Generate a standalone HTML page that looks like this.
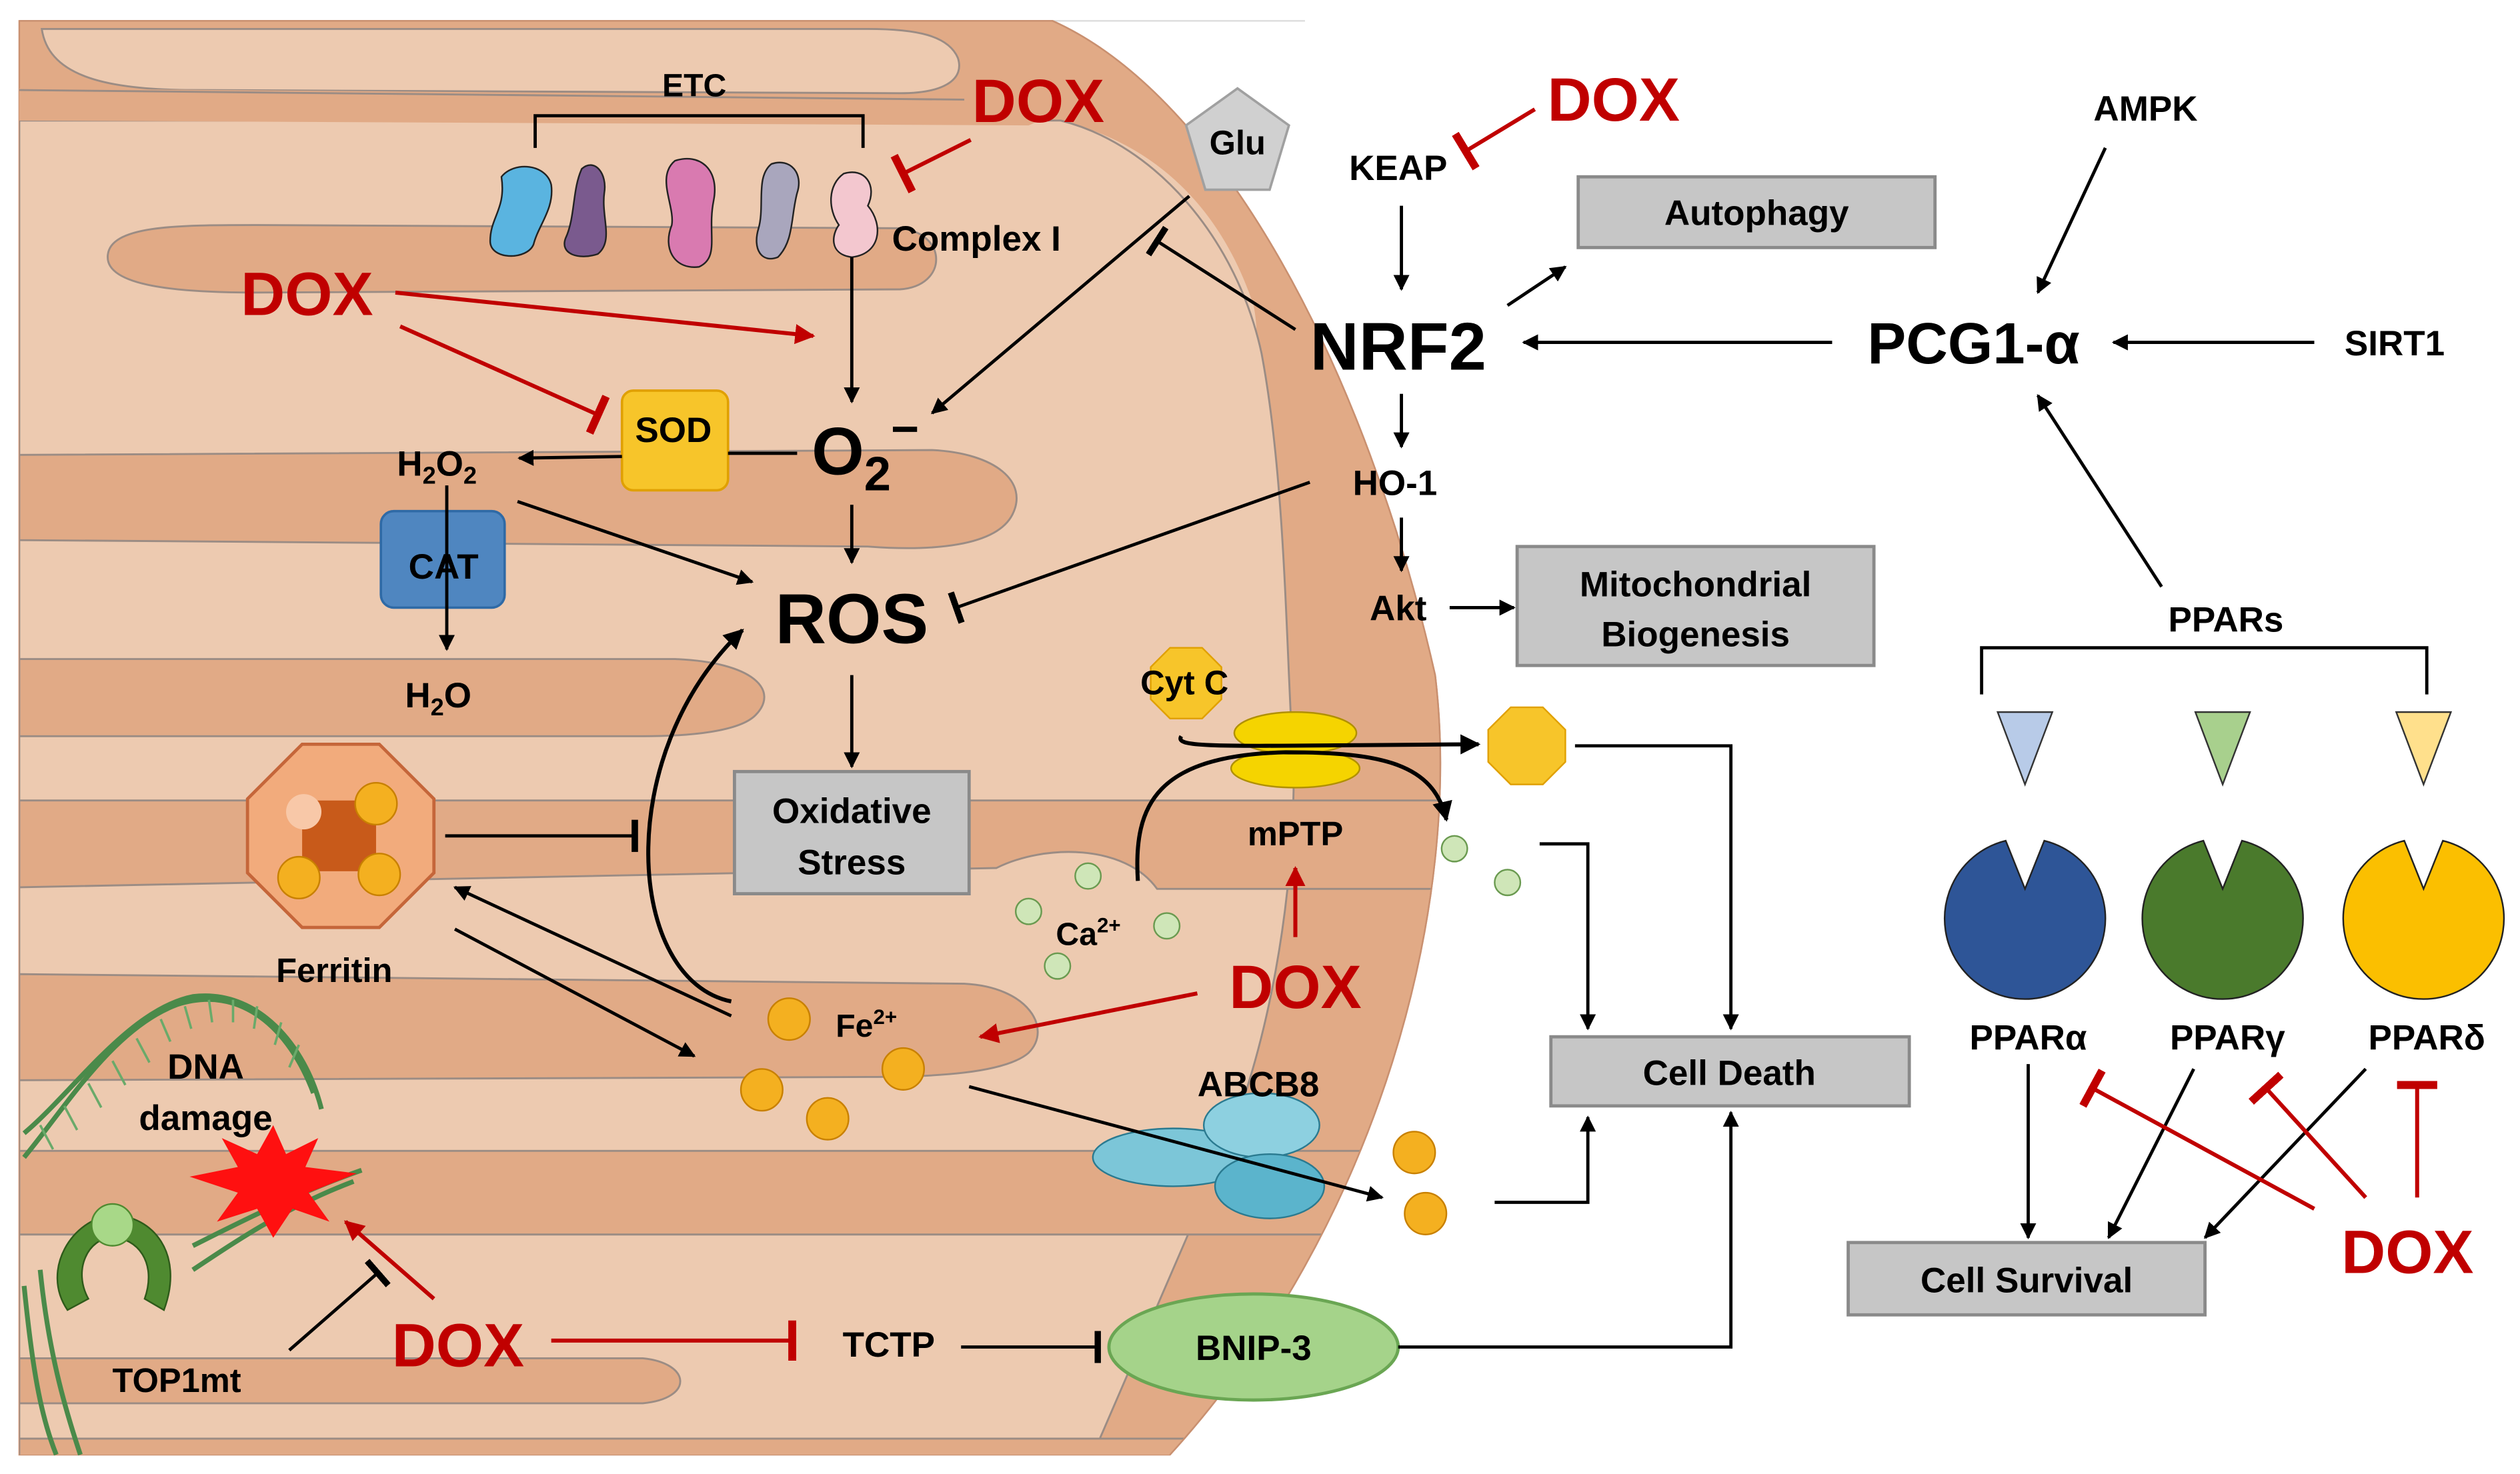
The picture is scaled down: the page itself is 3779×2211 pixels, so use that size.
<!DOCTYPE html>
<html><head><meta charset="utf-8"><style>
html,body{margin:0;padding:0;background:#fff;}
svg{display:block;}
text{font-family:"Liberation Sans",Arial,sans-serif;font-weight:bold;}
</style></head><body>
<svg width="3779" height="2211" viewBox="0 0 1568 917" preserveAspectRatio="none" xmlns="http://www.w3.org/2000/svg">
<defs>
<marker id="ab" viewBox="0 0 10 10" refX="9" refY="5" markerWidth="5" markerHeight="5" orient="auto"><path d="M0,0 L10,5 L0,10 z" fill="#000"/></marker>
<marker id="ar" viewBox="0 0 10 10" refX="9" refY="5" markerWidth="5" markerHeight="5" orient="auto"><path d="M0,0 L10,5 L0,10 z" fill="#c00000"/></marker>
<marker id="tb" viewBox="0 0 4 20" refX="2" refY="10" markerWidth="2" markerHeight="10" orient="auto"><rect x="0" y="0" width="4" height="20" fill="#000"/></marker>
<marker id="tr" viewBox="0 0 4 20" refX="2" refY="10" markerWidth="2" markerHeight="10" orient="auto"><rect x="0" y="0" width="4" height="20" fill="#c00000"/></marker>
<clipPath id="mito"><path d="M12,13 L655,13 C760,60 850,230 893,420 C910,560 860,760 728,905 L12,905 Z"/></clipPath>
</defs>
<rect width="1568" height="917" fill="#fff"/>
<line x1="12" y1="13" x2="812" y2="13" stroke="#ddd" stroke-width="1"/>
<!-- mitochondrion -->
<path d="M12,13 L655,13 C760,60 850,230 893,420 C910,560 860,760 728,905 L12,905 Z" fill="#e1aa86" stroke="#c99070" stroke-width="1"/>
<g clip-path="url(#mito)" stroke="#9b8c84" stroke-width="1.2">
 <path d="M12,75 L12,285 L560,285 C600,285 640,300 640,320 L700,320 C760,300 790,240 780,190 C760,130 720,90 660,75 Z" fill="#edcab0" stroke="none"/>
 <path d="M12,75 L660,75 C720,90 770,150 785,220 C800,300 800,400 805,480 C805,560 790,650 760,720 C730,790 700,860 680,905 L12,905 Z" fill="#edcab0"/>
 <path d="M26,18 C30,45 60,56 120,56 L560,58 C590,58 600,48 596,36 C590,22 570,18 540,18 Z" fill="#edcab0"/>
 <path d="M12,55 L620,60 C650,62 660,70 640,78 L12,75 Z" fill="#e1aa86" stroke="none"/>
 <path d="M12,56 L600,62" fill="none"/>
 <path d="M67,160 C67,140 110,140 160,140 L560,142 C590,145 590,178 560,180 L160,182 C110,182 67,178 67,160 Z" fill="#e1aa86"/>
 <path d="M12,283 L580,280 C620,282 640,300 630,320 C620,340 580,343 540,340 L12,336 Z" fill="#e1aa86"/>
 <path d="M12,410 L420,410 C470,412 485,430 470,445 C460,455 430,458 400,458 L12,458 Z" fill="#e1aa86"/>
 <path d="M12,498 L900,498 L900,553 L720,553 C700,525 650,525 620,540 L12,552 Z" fill="#e1aa86"/>
 <path d="M12,606 L600,612 C640,614 655,640 640,655 C625,668 580,670 540,670 L12,672 Z" fill="#e1aa86"/>
 <path d="M12,716 L900,716 L900,768 L12,768 Z" fill="#e1aa86"/>
 <path d="M12,845 L400,845 C430,848 432,870 400,873 L12,873 Z" fill="#e1aa86"/>
 <path d="M12,895 L900,895 L900,917 L12,917 Z" fill="#e1aa86"/>
</g>
<path d="M12,13 L655,13 C760,60 850,230 893,420 C910,560 860,760 728,905" fill="none" stroke="#c99070" stroke-width="1"/>

<!-- ETC -->
<text x="432" y="60" font-size="20" text-anchor="middle">ETC</text>
<path d="M333,92 L333,72 L537,72 L537,92" fill="none" stroke="#000" stroke-width="2"/>
<path d="M312,110 C320,100 340,102 343,115 C345,130 335,140 332,152 C328,162 305,162 305,150 C305,135 315,130 312,110 Z" fill="#5ab4e0" stroke="#222" stroke-width="1"/>
<path d="M362,105 C370,98 378,108 376,120 C374,135 382,150 372,158 C360,162 348,158 352,148 C358,135 356,118 362,105 Z" fill="#7a5a8e" stroke="#222" stroke-width="1"/>
<path d="M420,100 C435,95 448,105 444,125 C440,145 448,160 435,166 C420,168 412,155 418,140 C420,128 408,110 420,100 Z" fill="#d97ab0" stroke="#222" stroke-width="1"/>
<path d="M480,102 C492,98 500,108 496,120 C492,135 494,150 484,160 C474,164 468,155 472,142 C476,128 470,110 480,102 Z" fill="#a9a6bd" stroke="#222" stroke-width="1"/>
<path d="M525,108 C538,104 546,115 540,128 C550,140 548,158 530,160 C515,158 518,145 522,140 C515,130 515,115 525,108 Z" fill="#f3c7cf" stroke="#222" stroke-width="1"/>
<text x="646" y="76" font-size="38" fill="#c00000" text-anchor="middle">DOX</text>
<line x1="604" y1="87" x2="562" y2="108" stroke="#c00000" stroke-width="2.5" marker-end="url(#tr)"/>
<text x="555" y="156" font-size="22">Complex I</text>

<text x="191" y="196" font-size="38" fill="#c00000" text-anchor="middle">DOX</text>
<line x1="246" y1="182" x2="506" y2="209" stroke="#c00000" stroke-width="2.5" marker-end="url(#ar)"/>
<line x1="249" y1="203" x2="372" y2="258" stroke="#c00000" stroke-width="2.5" marker-end="url(#tr)"/>
<line x1="530" y1="160" x2="530" y2="250" stroke="#000" stroke-width="2" marker-end="url(#ab)"/>
<rect x="387" y="243" width="66" height="62" rx="7" fill="#f7c52a" stroke="#e0a000" stroke-width="1.5"/>
<line x1="453" y1="282" x2="496" y2="282" stroke="#000" stroke-width="2"/>
<line x1="387" y1="284" x2="323" y2="285" stroke="#000" stroke-width="2" marker-end="url(#ab)"/>
<text x="419" y="275" font-size="22" text-anchor="middle">SOD</text>
<text x="505" y="295" font-size="42">O<tspan font-size="30" dy="10">2</tspan><tspan font-size="30" dy="-28">−</tspan></text>
<text x="247" y="296" font-size="22">H<tspan font-size="15" dy="5">2</tspan><tspan dy="-5">O</tspan><tspan font-size="15" dy="5">2</tspan></text>
<rect x="237" y="318" width="77" height="60" rx="8" fill="#4f86c0" stroke="#2f6aa6" stroke-width="1.5"/>
<text x="276" y="360" font-size="22" text-anchor="middle">CAT</text>
<line x1="278" y1="302" x2="278" y2="404" stroke="#000" stroke-width="2" marker-end="url(#ab)"/>
<text x="252" y="440" font-size="22">H<tspan font-size="15" dy="5">2</tspan><tspan dy="-5">O</tspan></text>
<line x1="322" y1="312" x2="468" y2="362" stroke="#000" stroke-width="2" marker-end="url(#ab)"/>
<line x1="530" y1="314" x2="530" y2="350" stroke="#000" stroke-width="2" marker-end="url(#ab)"/>
<text x="530" y="400" font-size="44" text-anchor="middle">ROS</text>
<line x1="815" y1="300" x2="595" y2="378" stroke="#000" stroke-width="2" marker-end="url(#tb)"/>
<line x1="530" y1="420" x2="530" y2="477" stroke="#000" stroke-width="2" marker-end="url(#ab)"/>
<rect x="457" y="480" width="146" height="76" fill="#c6c6c6" stroke="#8a8a8a" stroke-width="2"/>
<text x="530" y="512" font-size="22" text-anchor="middle">Oxidative</text>
<text x="530" y="544" font-size="22" text-anchor="middle">Stress</text>

<!-- Ferritin -->
<polygon points="188,463 236,463 270,497 270,543 236,577 188,577 154,543 154,497" fill="#f2ab7c" stroke="#c5663a" stroke-width="2"/>
<rect x="188" y="498" width="46" height="44" fill="#c85a1a"/>
<circle cx="189" cy="505" r="11" fill="#f8c8a8"/>
<circle cx="234" cy="500" r="13" fill="#f4b020" stroke="#c88000"/>
<circle cx="186" cy="546" r="13" fill="#f4b020" stroke="#c88000"/>
<circle cx="236" cy="544" r="13" fill="#f4b020" stroke="#c88000"/>
<text x="208" y="611" font-size="21" text-anchor="middle">Ferritin</text>
<line x1="277" y1="520" x2="395" y2="520" stroke="#000" stroke-width="2" marker-end="url(#tb)"/>
<path d="M455,623 C390,610 380,470 462,392" fill="none" stroke="#000" stroke-width="2.5" marker-end="url(#ab)"/>
<line x1="455" y1="632" x2="283" y2="552" stroke="#000" stroke-width="2" marker-end="url(#ab)"/>
<line x1="283" y1="578" x2="432" y2="657" stroke="#000" stroke-width="2" marker-end="url(#ab)"/>
<g fill="#f4b020" stroke="#c88000" stroke-width="1">
<circle cx="491" cy="634" r="13"/><circle cx="562" cy="665" r="13"/><circle cx="474" cy="678" r="13"/><circle cx="515" cy="696" r="13"/>
<circle cx="880" cy="717" r="13"/><circle cx="887" cy="755" r="13"/>
</g>
<text x="520" y="645" font-size="20">Fe<tspan font-size="13" dy="-8">2+</tspan></text>
<text x="806" y="627" font-size="38" fill="#c00000" text-anchor="middle">DOX</text>
<line x1="745" y1="618" x2="610" y2="645" stroke="#c00000" stroke-width="2.5" marker-end="url(#ar)"/>
<line x1="806" y1="583" x2="806" y2="540" stroke="#c00000" stroke-width="2.5" marker-end="url(#ar)"/>
<text x="806" y="526" font-size="21" text-anchor="middle">mPTP</text>

<!-- Cyt C & mPTP -->
<polygon points="728,403 748,403 760,415 760,435 748,447 728,447 716,435 716,415" fill="#f7c52a" stroke="#e0a000"/>
<ellipse cx="806" cy="478" rx="40" ry="12" fill="#f5d400" stroke="#b09000"/>
<ellipse cx="806" cy="456" rx="38" ry="13" fill="#f5d400" stroke="#b09000"/>
<text x="737" y="432" font-size="21" text-anchor="middle">Cyt C</text>
<path d="M735,458 C730,466 760,464 920,463" fill="none" stroke="#000" stroke-width="2.5" marker-end="url(#ab)"/>
<polygon points="940,440 960,440 974,454 974,474 960,488 940,488 926,474 926,454" fill="#f7c52a" stroke="#e0a000"/>
<path d="M708,548 C705,500 720,470 800,468 C860,468 892,475 900,510" fill="none" stroke="#000" stroke-width="2.5" marker-end="url(#ab)"/>
<g fill="#cfe6b8" stroke="#6a9a50" stroke-width="1">
<circle cx="677" cy="545" r="8"/><circle cx="640" cy="567" r="8"/><circle cx="726" cy="576" r="8"/><circle cx="658" cy="601" r="8"/>
<circle cx="905" cy="528" r="8"/><circle cx="938" cy="549" r="8"/>
</g>
<text x="657" y="588" font-size="20">Ca<tspan font-size="13" dy="-8">2+</tspan></text>
<path d="M980,464 L1077,464 L1077,640" fill="none" stroke="#000" stroke-width="2" marker-end="url(#ab)"/>
<path d="M958,525 L988,525 L988,640" fill="none" stroke="#000" stroke-width="2" marker-end="url(#ab)"/>
<rect x="965" y="645" width="223" height="43" fill="#c6c6c6" stroke="#8a8a8a" stroke-width="2"/>
<text x="1076" y="675" font-size="22" text-anchor="middle">Cell Death</text>

<!-- ABCB8 -->
<ellipse cx="730" cy="720" rx="50" ry="18" fill="#7cc6d8" stroke="#2a7a90"/>
<ellipse cx="785" cy="700" rx="36" ry="20" fill="#8dd0e0" stroke="#2a7a90"/>
<ellipse cx="790" cy="738" rx="34" ry="20" fill="#5bb4cc" stroke="#2a7a90"/>
<text x="783" y="682" font-size="22" text-anchor="middle">ABCB8</text>
<line x1="603" y1="676" x2="860" y2="745" stroke="#000" stroke-width="2" marker-end="url(#ab)"/>
<path d="M930,748 L988,748 L988,695" fill="none" stroke="#000" stroke-width="2" marker-end="url(#ab)"/>

<!-- BNIP-3 -->
<ellipse cx="780" cy="838" rx="90" ry="33" fill="#a5d38a" stroke="#6aa653" stroke-width="2"/>
<text x="780" y="846" font-size="22" text-anchor="middle">BNIP-3</text>
<path d="M870,838 L1077,838 L1077,692" fill="none" stroke="#000" stroke-width="2" marker-end="url(#ab)"/>
<text x="553" y="844" font-size="22" text-anchor="middle">TCTP</text>
<line x1="598" y1="838" x2="683" y2="838" stroke="#000" stroke-width="2" marker-end="url(#tb)"/>
<text x="285" y="850" font-size="38" fill="#c00000" text-anchor="middle">DOX</text>
<line x1="343" y1="834" x2="493" y2="834" stroke="#c00000" stroke-width="2.5" marker-end="url(#tr)"/>
<line x1="270" y1="808" x2="215" y2="760" stroke="#c00000" stroke-width="2.5" marker-end="url(#ar)"/>
<line x1="180" y1="840" x2="235" y2="792" stroke="#000" stroke-width="2" marker-end="url(#tb)"/>

<!-- DNA -->
<g fill="none" stroke="#4a8a4a" stroke-width="3">
<path d="M15,720 C40,690 70,640 110,625 C150,612 180,640 195,680"/>
<path d="M15,705 C45,680 80,628 120,620 C160,615 190,650 200,690"/>
<path d="M15,800 C20,850 25,880 35,905"/>
<path d="M25,790 C30,840 40,875 50,905"/>
<path d="M120,790 C150,770 180,750 220,735"/>
<path d="M120,775 C150,760 185,742 225,728"/>
</g>
<g stroke="#6aaa6a" stroke-width="1.5">
<path d="M25,700 l8,15 M40,688 l8,15 M55,674 l8,15 M70,660 l8,15 M85,646 l8,15 M100,634 l6,14 M115,626 l4,14 M130,622 l2,14 M145,622 l0,14 M160,626 l-2,14 M175,636 l-4,14 M186,650 l-6,14"/>
</g>
<polygon points="170,700 178,718 198,708 190,726 222,730 192,742 205,760 182,752 170,770 160,752 135,760 148,742 118,732 148,726 138,708 160,718" fill="#ff1010"/>
<path d="M42,815 C25,790 45,758 70,756 C95,756 115,780 102,815 L90,808 C98,785 85,770 70,770 C55,770 45,790 55,808 Z" fill="#4f8a30" stroke="#2e5a1a"/>
<circle cx="70" cy="762" r="13" fill="#a8d888" stroke="#4f8a30"/>
<text x="128" y="671" font-size="22" text-anchor="middle">DNA</text>
<text x="128" y="703" font-size="22" text-anchor="middle">damage</text>
<text x="110" y="866" font-size="21" text-anchor="middle">TOP1mt</text>

<!-- right side -->
<polygon points="770,55 802,78 790,118 750,118 738,78" fill="#d0d0d0" stroke="#a0a0a0" stroke-width="1.5"/>
<text x="770" y="96" font-size="21" text-anchor="middle">Glu</text>
<line x1="740" y1="122" x2="580" y2="257" stroke="#000" stroke-width="2" marker-end="url(#ab)"/>
<line x1="806" y1="205" x2="720" y2="150" stroke="#000" stroke-width="2" marker-end="url(#tb)"/>
<text x="870" y="112" font-size="22" text-anchor="middle">KEAP</text>
<text x="1004" y="75" font-size="38" fill="#c00000" text-anchor="middle">DOX</text>
<line x1="955" y1="68" x2="912" y2="94" stroke="#c00000" stroke-width="2.5" marker-end="url(#tr)"/>
<line x1="872" y1="128" x2="872" y2="180" stroke="#000" stroke-width="2" marker-end="url(#ab)"/>
<text x="870" y="230" font-size="42" text-anchor="middle">NRF2</text>
<rect x="982" y="110" width="222" height="44" fill="#c6c6c6" stroke="#8a8a8a" stroke-width="2"/>
<text x="1093" y="140" font-size="22" text-anchor="middle">Autophagy</text>
<line x1="938" y1="190" x2="974" y2="166" stroke="#000" stroke-width="2" marker-end="url(#ab)"/>
<text x="1228" y="226" font-size="36" text-anchor="middle">PCG1-α</text>
<line x1="1140" y1="213" x2="948" y2="213" stroke="#000" stroke-width="2" marker-end="url(#ab)"/>
<text x="1490" y="221" font-size="22" text-anchor="middle">SIRT1</text>
<line x1="1440" y1="213" x2="1315" y2="213" stroke="#000" stroke-width="2" marker-end="url(#ab)"/>
<text x="1335" y="75" font-size="22" text-anchor="middle">AMPK</text>
<line x1="1310" y1="92" x2="1268" y2="182" stroke="#000" stroke-width="2" marker-end="url(#ab)"/>
<line x1="1345" y1="365" x2="1268" y2="246" stroke="#000" stroke-width="2" marker-end="url(#ab)"/>
<line x1="872" y1="245" x2="872" y2="278" stroke="#000" stroke-width="2" marker-end="url(#ab)"/>
<text x="868" y="308" font-size="22" text-anchor="middle">HO-1</text>
<line x1="872" y1="322" x2="872" y2="355" stroke="#000" stroke-width="2" marker-end="url(#ab)"/>
<text x="870" y="386" font-size="22" text-anchor="middle">Akt</text>
<line x1="902" y1="378" x2="942" y2="378" stroke="#000" stroke-width="2" marker-end="url(#ab)"/>
<rect x="944" y="340" width="222" height="74" fill="#c6c6c6" stroke="#8a8a8a" stroke-width="2"/>
<text x="1055" y="371" font-size="22" text-anchor="middle">Mitochondrial</text>
<text x="1055" y="402" font-size="22" text-anchor="middle">Biogenesis</text>

<text x="1385" y="393" font-size="22" text-anchor="middle">PPARs</text>
<path d="M1233,432 L1233,403 L1510,403 L1510,432" fill="none" stroke="#000" stroke-width="2"/>
<polygon points="1243,443 1277,443 1260,488" fill="#b8cbe8" stroke="#333"/>
<polygon points="1366,443 1400,443 1383,488" fill="#a8d08d" stroke="#333"/>
<polygon points="1491,443 1525,443 1508,488" fill="#ffe08c" stroke="#333"/>
<path d="M1248,523 L1260,553 L1272,523 A50,50 0 1 1 1248,523 Z" fill="#2e5597" stroke="#222"/>
<path d="M1371,523 L1383,553 L1395,523 A50,50 0 1 1 1371,523 Z" fill="#4a7a2c" stroke="#222"/>
<path d="M1496,523 L1508,553 L1520,523 A50,50 0 1 1 1496,523 Z" fill="#fbbf00" stroke="#222"/>
<text x="1262" y="653" font-size="22" text-anchor="middle">PPARα</text>
<text x="1386" y="653" font-size="22" text-anchor="middle">PPARγ</text>
<text x="1510" y="653" font-size="22" text-anchor="middle">PPARδ</text>
<line x1="1262" y1="662" x2="1262" y2="770" stroke="#000" stroke-width="2" marker-end="url(#ab)"/>
<line x1="1365" y1="665" x2="1312" y2="770" stroke="#000" stroke-width="2" marker-end="url(#ab)"/>
<line x1="1472" y1="665" x2="1372" y2="770" stroke="#000" stroke-width="2" marker-end="url(#ab)"/>
<rect x="1150" y="773" width="222" height="45" fill="#c6c6c6" stroke="#8a8a8a" stroke-width="2"/>
<text x="1261" y="804" font-size="22" text-anchor="middle">Cell Survival</text>
<text x="1498" y="792" font-size="38" fill="#c00000" text-anchor="middle">DOX</text>
<line x1="1440" y1="752" x2="1302" y2="677" stroke="#c00000" stroke-width="2.5" marker-end="url(#tr)"/>
<line x1="1472" y1="745" x2="1410" y2="677" stroke="#c00000" stroke-width="2.5" marker-end="url(#tr)"/>
<line x1="1504" y1="745" x2="1504" y2="675" stroke="#c00000" stroke-width="2.5" marker-end="url(#tr)"/>
</svg>
</body></html>
